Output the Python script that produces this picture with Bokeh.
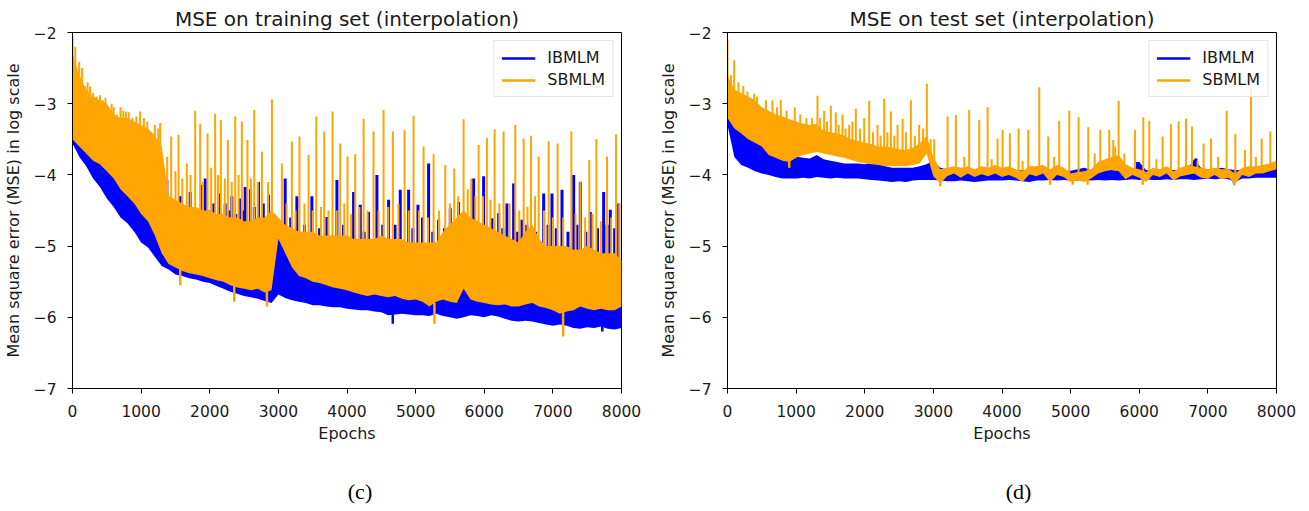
from bokeh.plotting import figure
from bokeh.layouts import row, column
from bokeh.models import Range1d, FixedTicker, Legend, LegendItem, Label
from bokeh.embed import file_html
from bokeh.resources import INLINE

# ---------------- data ----------------
EPOCHS = [0, 100, 200, 300, 400, 500, 600, 700, 800, 900,
          1000, 1100, 1200, 1300, 1400, 1500, 1600, 1700, 1800, 1900,
          2000, 2100, 2200, 2300, 2400, 2500, 2600, 2700, 2800, 2900,
          3000, 3100, 3200, 3300, 3400, 3500, 3600, 3700, 3800, 3900,
          4000, 4100, 4200, 4300, 4400, 4500, 4600, 4700, 4800, 4900,
          5000, 5100, 5200, 5300, 5400, 5500, 5600, 5700, 5800, 5900,
          6000, 6100, 6200, 6300, 6400, 6500, 6600, 6700, 6800, 6900,
          7000, 7100, 7200, 7300, 7400, 7500, 7600, 7700, 7800, 7900,
          8000]

XTICKS = [0, 1000, 2000, 3000, 4000, 5000, 6000, 7000, 8000]
YTICKS = [-7, -6, -5, -4, -3, -2]
YTICK_LABELS = ["\u22127", "\u22126", "\u22125", "\u22124", "\u22123", "\u22122"]
SERIES = ["IBMLM", "SBMLM"]
CAPTIONS = ["(c)", "(d)"]
TITLES = ["MSE on training set (interpolation)", "MSE on test set (interpolation)"]

# ---- (c) training set: IBMLM dense band (lower / upper edge) ----
TRAIN_IB_LO = [-3.56, -3.75, -3.88, -4.05, -4.17, -4.33, -4.45, -4.6, -4.68, -4.8,
               -4.95, -5.02, -5.15, -5.28, -5.33, -5.4, -5.42, -5.45, -5.47, -5.5,
               -5.52, -5.56, -5.6, -5.64, -5.67, -5.7, -5.72, -5.74, -5.77, -5.8,
               -5.68, -5.73, -5.76, -5.78, -5.8, -5.83, -5.83, -5.85, -5.86, -5.86,
               -5.88, -5.89, -5.9, -5.9, -5.92, -5.93, -5.97, -5.96, -5.95, -5.96,
               -5.97, -5.97, -5.98, -5.95, -5.98, -6.0, -6.02, -6.0, -5.97, -5.98,
               -6.0, -5.97, -5.99, -6.02, -6.05, -6.06, -6.05, -6.06, -6.08, -6.1,
               -6.12, -6.1, -6.12, -6.15, -6.16, -6.14, -6.15, -6.13, -6.16, -6.17,
               -6.15]
TRAIN_IB_HI = [-3.3, -3.4, -3.5, -3.65, -3.75, -3.9, -4.0, -4.15, -4.25, -4.35,
               -4.5, -4.6, -4.7, -4.85, -4.95, -5.05, -5.1, -5.15, -5.2, -5.2,
               -5.25, -5.3, -5.33, -5.38, -5.4, -5.42, -5.45, -5.48, -5.5, -5.5,
               -4.8, -5.0, -5.2, -5.3, -5.35, -5.4, -5.45, -5.48, -5.5, -5.52,
               -5.54, -5.56, -5.58, -5.6, -5.58, -5.6, -5.62, -5.6, -5.64, -5.66,
               -5.65, -5.68, -5.72, -5.68, -5.65, -5.68, -5.7, -5.4, -5.65, -5.68,
               -5.7, -5.72, -5.73, -5.72, -5.75, -5.75, -5.72, -5.7, -5.75, -5.77,
               -5.8, -5.85, -5.82, -5.8, -5.7, -5.78, -5.8, -5.78, -5.8, -5.8,
               -5.75]
# spikes: (epoch, peak, base)
TRAIN_IB_SPIKES = [(520, -3.18, -4.0), (1375, -4.07, -5.1), (1450, -4.6, -5.2), (1570, -4.3, -5.2),
                   (1650, -4.5, -5.2), (1715, -4.24, -5.2), (1780, -4.6, -5.3), (1881, -4.14, -5.3),
                   (1934, -4.05, -5.3), (2000, -4.5, -5.3), (2060, -4.4, -5.3), (2128, -4.26, -5.3),
                   (2225, -4.4, -5.4), (2280, -4.5, -5.4), (2322, -4.3, -5.4), (2380, -4.55, -5.4),
                   (2444, -4.33, -5.4), (2480, -4.5, -5.4), (2516, -4.17, -5.4), (2595, -4.2, -5.4),
                   (2650, -4.45, -5.4), (2710, -4.1, -5.4), (2780, -4.4, -5.4), (2857, -4.28, -5.4),
                   (3099, -4.05, -5.1), (3180, -4.6, -5.3), (3270, -4.3, -5.3), (3380, -4.7, -5.4),
                   (3488, -4.3, -5.5), (3600, -4.75, -5.5), (3707, -4.59, -5.5), (3853, -4.07, -5.6),
                   (3950, -4.7, -5.6), (4096, -4.24, -5.6), (4193, -4.42, -5.6), (4250, -4.8, -5.6),
                   (4314, -4.52, -5.6), (4436, -4.0, -5.6), (4520, -4.7, -5.6), (4606, -4.35, -5.7),
                   (4700, -4.7, -5.7), (4776, -4.21, -5.7), (4898, -4.21, -5.7), (4960, -4.75, -5.7),
                   (5034, -4.42, -5.7), (5100, -4.6, -5.7), (5189, -3.84, -5.7), (5250, -4.8, -5.7),
                   (5335, -4.63, -5.7), (5420, -4.75, -5.7), (5505, -4.47, -5.7), (5560, -4.7, -5.7),
                   (5626, -4.38, -5.7), (5760, -4.65, -5.6), (5845, -4.05, -5.7), (5920, -4.7, -5.7),
                   (5991, -4.02, -5.8), (6050, -4.8, -5.8), (6112, -4.61, -5.8), (6210, -4.54, -5.8),
                   (6270, -4.75, -5.8), (6331, -4.4, -5.8), (6428, -4.12, -5.8), (6480, -4.8, -5.8),
                   (6550, -4.63, -5.8), (6620, -4.7, -5.8), (6750, -4.8, -5.8), (6866, -4.26, -5.8),
                   (6930, -4.7, -5.8), (6987, -4.26, -5.9), (7050, -4.75, -5.9), (7133, -4.21, -5.9),
                   (7220, -4.8, -5.9), (7303, -4.0, -5.9), (7350, -4.7, -5.9), (7400, -4.1, -5.9),
                   (7480, -4.8, -5.9), (7546, -4.52, -5.9), (7650, -4.75, -5.9), (7740, -4.24, -5.9),
                   (7790, -4.7, -5.9), (7837, -4.49, -5.9), (7900, -4.75, -5.9), (7959, -4.4, -5.9)]
TRAIN_IB_DIPS = [(4667, -6.09, -5.9), (7720, -6.2, -6.0)]

# ---- (c) training set: SBMLM ----
TRAIN_SB_LO = [-3.5, -3.6, -3.7, -3.8, -3.85, -3.95, -4.05, -4.2, -4.3, -4.4,
               -4.55, -4.65, -4.85, -5.1, -5.25, -5.3, -5.35, -5.38, -5.4, -5.42,
               -5.45, -5.48, -5.5, -5.55, -5.58, -5.6, -5.62, -5.6, -5.65, -5.62,
               -4.9, -5.1, -5.3, -5.42, -5.45, -5.5, -5.52, -5.55, -5.58, -5.6,
               -5.62, -5.65, -5.68, -5.7, -5.68, -5.7, -5.72, -5.7, -5.74, -5.76,
               -5.75, -5.78, -5.85, -5.78, -5.75, -5.78, -5.8, -5.6, -5.75, -5.78,
               -5.8, -5.82, -5.83, -5.82, -5.85, -5.85, -5.82, -5.8, -5.85, -5.87,
               -5.9, -5.95, -5.92, -5.9, -5.85, -5.88, -5.9, -5.88, -5.9, -5.9,
               -5.85]
TRAIN_SB_HI = [-2.3, -2.6, -2.8, -2.9, -2.95, -3.0, -3.15, -3.2, -3.2, -3.25,
               -3.3, -3.35, -3.45, -3.6, -4.3, -4.35, -4.4, -4.45, -4.45, -4.5,
               -4.5, -4.55, -4.55, -4.6, -4.6, -4.65, -4.65, -4.6, -4.6, -4.5,
               -4.6, -4.7, -4.75, -4.8, -4.8, -4.8, -4.85, -4.85, -4.85, -4.85,
               -4.85, -4.9, -4.9, -4.9, -4.9, -4.85, -4.9, -4.9, -4.9, -4.95,
               -4.95, -4.95, -4.95, -4.95, -4.8, -4.7, -4.6, -4.5, -4.6, -4.65,
               -4.7, -4.75, -4.8, -4.85, -4.9, -4.95, -4.8, -4.7, -4.9, -5.0,
               -5.0, -5.0, -5.0, -5.05, -5.05, -5.0, -5.05, -5.1, -5.1, -5.1,
               -5.2]
TRAIN_SB_SPIKES = [(0, -2.05, -2.5), (40, -2.2, -2.5), (97, -2.41, -2.8), (140, -2.5, -2.8),
                   (180, -2.75, -3.0), (220, -2.7, -3.0), (257, -2.76, -3.1), (300, -2.85, -3.1),
                   (350, -2.9, -3.2), (400, -2.88, -3.2), (440, -2.95, -3.2), (480, -2.92, -3.2),
                   (525, -3.05, -3.3), (570, -3.0, -3.3), (600, -3.05, -3.3), (646, -3.15, -3.4),
                   (700, -3.05, -3.4), (740, -3.1, -3.4), (777, -3.11, -3.5), (820, -3.12, -3.5),
                   (874, -3.2, -3.5), (930, -3.18, -3.5), (985, -3.11, -3.6), (1040, -3.2, -3.6),
                   (1090, -3.25, -3.6), (1146, -3.4, -3.8), (1200, -3.3, -3.8), (1250, -3.35, -3.8),
                   (1278, -3.27, -3.9), (1330, -3.9, -4.5), (1380, -3.75, -4.5), (1438, -3.46, -4.6),
                   (1500, -3.95, -4.6), (1545, -3.44, -4.6), (1600, -4.05, -4.6), (1666, -3.84, -4.7),
                   (1720, -4.0, -4.7), (1788, -3.1, -4.7), (1860, -3.28, -4.7), (1900, -4.1, -4.7),
                   (1968, -3.42, -4.8), (2020, -3.9, -4.8), (2079, -3.14, -4.8), (2120, -4.0, -4.8),
                   (2162, -3.23, -4.8), (2220, -4.05, -4.8), (2264, -3.51, -4.8), (2320, -4.1, -4.9),
                   (2371, -3.18, -4.9), (2420, -4.0, -4.9), (2468, -3.25, -4.9), (2550, -3.51, -4.9),
                   (2600, -4.05, -4.9), (2648, -3.09, -4.9), (2700, -4.1, -4.9), (2760, -3.67, -4.9),
                   (2850, -4.1, -4.9), (2906, -2.94, -4.9), (3051, -3.84, -4.8), (3120, -4.4, -4.9),
                   (3197, -3.53, -5.0), (3250, -4.5, -5.0), (3308, -3.46, -5.0), (3380, -4.4, -5.0),
                   (3440, -3.72, -5.0), (3500, -4.5, -5.0), (3552, -3.18, -5.0), (3620, -4.45, -5.1),
                   (3668, -3.39, -5.1), (3730, -4.5, -5.1), (3789, -3.11, -5.1), (3850, -4.5, -5.1),
                   (3901, -3.56, -5.1), (3960, -4.4, -5.1), (4008, -3.74, -5.1), (4060, -4.55, -5.1),
                   (4120, -3.71, -5.1), (4180, -4.45, -5.1), (4242, -3.21, -5.1), (4300, -4.5, -5.1),
                   (4387, -3.39, -5.1), (4460, -4.5, -5.1), (4533, -3.09, -5.1), (4600, -4.45, -5.1),
                   (4669, -3.39, -5.1), (4750, -4.4, -5.1), (4839, -3.37, -5.1), (4900, -4.5, -5.2),
                   (4970, -3.17, -5.2), (5050, -4.5, -5.2), (5116, -3.6, -5.2), (5180, -4.6, -5.2),
                   (5262, -3.71, -5.2), (5340, -4.5, -5.2), (5432, -3.86, -5.2), (5500, -4.4, -5.2),
                   (5563, -3.91, -5.2), (5620, -4.3, -5.2), (5699, -3.22, -5.2), (5760, -4.2, -5.2),
                   (5811, -4.05, -5.2), (5870, -4.3, -5.2), (5918, -3.58, -5.2), (5980, -4.3, -5.2),
                   (6039, -3.48, -5.2), (6090, -4.35, -5.2), (6151, -3.36, -5.2), (6220, -4.4, -5.2),
                   (6282, -3.39, -5.2), (6370, -4.4, -5.2), (6452, -3.3, -5.2), (6510, -4.5, -5.3),
                   (6574, -3.49, -5.3), (6630, -4.45, -5.3), (6681, -3.45, -5.3), (6740, -4.3, -5.3),
                   (6793, -3.74, -5.3), (6870, -4.5, -5.3), (6939, -3.53, -5.3), (7000, -4.6, -5.3),
                   (7070, -3.56, -5.3), (7150, -4.6, -5.3), (7269, -3.39, -5.3), (7330, -4.55, -5.3),
                   (7400, -4.09, -5.3), (7470, -4.6, -5.3), (7531, -3.79, -5.3), (7580, -4.55, -5.3),
                   (7633, -3.5, -5.3), (7700, -4.65, -5.3), (7789, -3.74, -5.3), (7850, -4.6, -5.3),
                   (7920, -3.43, -5.3), (7968, -4.4, -5.3)]
TRAIN_SB_DIPS = [(1570, -5.55, -5.3), (2357, -5.78, -5.5), (2833, -5.85, -5.6),
                 (5274, -6.09, -5.8), (7149, -6.27, -5.9)]

# ---- (d) test set: IBMLM ----
TEST_IB_LO = [-3.3, -3.75, -3.86, -3.9, -3.95, -3.98, -4.0, -4.03, -4.05, -4.05,
              -4.05, -4.04, -4.05, -4.03, -4.04, -4.05, -4.04, -4.05, -4.05, -4.05,
              -4.06, -4.07, -4.08, -4.09, -4.1, -4.09, -4.1, -4.08, -4.07, -4.07,
              -4.07, -4.08, -4.09, -4.09, -4.08, -4.09, -4.1, -4.09, -4.08, -4.08,
              -4.08, -4.07, -4.08, -4.09, -4.1, -4.08, -4.08, -4.07, -4.08, -4.07,
              -4.08, -4.08, -4.07, -4.08, -4.07, -4.08, -4.07, -4.08, -4.07, -4.06,
              -4.07, -4.06, -4.07, -4.07, -4.06, -4.07, -4.06, -4.06, -4.07, -4.06,
              -4.05, -4.06, -4.05, -4.06, -4.1, -4.05, -4.05, -4.04, -4.04, -4.04,
              -4.04]
TEST_IB_HI = [-3.2, -3.3, -3.38, -3.42, -3.46, -3.5, -3.6, -3.65, -3.7, -3.72,
              -3.74, -3.76, -3.77, -3.72, -3.78, -3.8, -3.82, -3.84, -3.84, -3.84,
              -3.85, -3.83, -3.85, -3.88, -3.9, -3.9, -3.9, -3.9, -3.88, -3.85,
              -3.8, -3.9, -3.92, -3.93, -3.93, -3.93, -3.94, -3.93, -3.93, -3.92,
              -3.93, -3.94, -3.94, -3.93, -3.94, -3.93, -3.92, -3.94, -3.94, -3.95,
              -3.94, -3.92, -3.9, -3.93, -3.92, -3.92, -3.93, -3.94, -3.94, -3.93,
              -3.82, -3.93, -3.94, -3.94, -3.94, -3.93, -3.94, -3.92, -3.78, -3.9,
              -3.92, -3.92, -3.9, -3.92, -3.93, -3.93, -3.92, -3.93, -3.92, -3.92,
              -3.9]
TEST_IB_SPIKES = [(20, -3.15, -3.3), (2964, -3.79, -3.9), (5976, -3.82, -3.95), (6826, -3.77, -3.95)]
TEST_IB_DIPS = [(7380, -4.12, -4.05)]

# ---- (d) test set: SBMLM ----
TEST_SB_LO = [-3.2, -3.35, -3.42, -3.5, -3.55, -3.6, -3.72, -3.76, -3.8, -3.82,
              -3.76, -3.72, -3.7, -3.68, -3.7, -3.72, -3.74, -3.76, -3.79, -3.82,
              -3.84, -3.85, -3.86, -3.88, -3.88, -3.88, -3.88, -3.86, -3.84, -3.7,
              -4.02, -4.12, -4.02, -3.98, -4.04, -3.98, -4.03, -3.99, -4.02, -3.98,
              -4.03, -4.0, -4.04, -4.1, -3.99, -4.02, -3.98, -4.1, -4.0, -4.03,
              -4.1, -4.08, -4.1, -4.05, -3.98, -3.95, -3.93, -3.95, -4.06, -4.0,
              -4.04, -4.1, -4.0, -4.03, -3.98, -4.08, -4.02, -4.0, -3.98, -4.04,
              -4.05, -4.0, -4.06, -4.04, -4.12, -4.0, -4.03, -3.98, -3.98, -3.95,
              -3.92]
TEST_SB_HI = [-2.6, -2.8, -2.85, -2.9, -2.95, -3.05, -3.1, -3.15, -3.18, -3.22,
              -3.25, -3.28, -3.3, -3.28, -3.38, -3.4, -3.42, -3.45, -3.5, -3.52,
              -3.55, -3.57, -3.6, -3.6, -3.62, -3.64, -3.65, -3.62, -3.56, -3.45,
              -3.75, -3.92, -3.9, -3.88, -3.9, -3.88, -3.92, -3.88, -3.9, -3.86,
              -3.9, -3.88, -3.92, -3.95, -3.88, -3.88, -3.86, -3.92, -3.86, -3.9,
              -3.98, -3.96, -3.95, -3.92, -3.82, -3.78, -3.75, -3.72, -3.85, -3.9,
              -3.92, -3.96, -3.9, -3.92, -3.88, -3.95, -3.9, -3.86, -3.88, -3.9,
              -3.92, -3.9, -3.92, -3.92, -3.98, -3.9, -3.88, -3.88, -3.86, -3.84,
              -3.8]
TEST_SB_SPIKES = [(0, -2.1, -2.8), (50, -2.6, -2.9), (97, -2.39, -2.9), (160, -2.7, -2.9),
                  (230, -2.75, -2.95), (291, -2.83, -3.0), (388, -2.86, -3.0), (430, -2.9, -3.1),
                  (485, -3.07, -3.15), (560, -2.95, -3.2), (655, -2.95, -3.2), (720, -3.05, -3.25),
                  (777, -2.95, -3.3), (860, -3.1, -3.3), (981, -3.05, -3.35), (1060, -3.15, -3.4),
                  (1150, -3.2, -3.4), (1230, -3.2, -3.4),
                  (1311, -2.89, -3.4), (1350, -3.2, -3.4), (1408, -3.1, -3.5), (1450, -3.25, -3.5),
                  (1506, -3.03, -3.5), (1578, -3.12, -3.5), (1620, -3.3, -3.5), (1676, -3.15, -3.55),
                  (1720, -3.35, -3.55), (1773, -3.3, -3.6), (1820, -3.25, -3.6), (1870, -3.07, -3.6),
                  (1930, -3.35, -3.6), (1992, -3.2, -3.65), (2065, -2.96, -3.65), (2120, -3.4, -3.65),
                  (2186, -3.3, -3.7), (2230, -3.45, -3.7), (2283, -2.93, -3.7), (2330, -3.4, -3.7),
                  (2381, -3.11, -3.7), (2430, -3.45, -3.7), (2478, -3.3, -3.7), (2551, -3.21, -3.75),
                  (2600, -3.4, -3.75), (2672, -2.95, -3.7), (2730, -3.45, -3.7), (2793, -3.3, -3.7),
                  (2850, -3.35, -3.65), (2905, -2.72, -3.6), (2960, -3.5, -3.8), (3012, -3.5, -3.9),
                  (3207, -3.18, -3.95), (3328, -3.16, -3.95), (3450, -3.75, -3.95), (3522, -3.09, -3.95),
                  (3668, -3.23, -3.95), (3790, -3.05, -3.95), (3850, -3.78, -3.95), (3935, -3.49, -3.95),
                  (4008, -3.37, -3.95), (4115, -3.42, -3.95), (4241, -3.35, -3.95), (4300, -3.8, -3.95),
                  (4382, -3.37, -3.95), (4543, -2.77, -3.95), (4674, -3.46, -3.95), (4760, -3.75, -3.95),
                  (4834, -3.24, -3.95), (4980, -3.1, -3.98), (5116, -3.19, -3.98), (5257, -3.33, -3.98),
                  (5350, -3.7, -3.9), (5432, -3.37, -3.9), (5563, -3.37, -3.85), (5621, -3.51, -3.85),
                  (5650, -3.6, -3.85), (5699, -2.96, -3.85), (5782, -3.7, -3.9), (5937, -3.37, -3.95),
                  (6059, -3.19, -3.98), (6146, -3.24, -3.98), (6250, -3.78, -3.95), (6340, -3.46, -3.95),
                  (6462, -3.29, -3.95), (6574, -3.25, -3.95), (6681, -3.21, -3.95), (6768, -3.32, -3.95),
                  (6850, -3.8, -3.95), (6938, -3.56, -3.95), (7045, -3.49, -3.95), (7150, -3.75, -3.95),
                  (7273, -3.1, -3.95), (7400, -3.43, -4.0), (7541, -3.65, -3.95), (7628, -2.79, -3.95),
                  (7700, -3.75, -3.95), (7784, -3.49, -3.92), (7910, -3.39, -3.9)]
TEST_SB_DIPS = [(900, -3.9, -3.78), (3100, -4.16, -4.05), (4700, -4.14, -4.05), (5030, -4.14, -4.05),
                (5247, -4.14, -4.05), (6050, -4.14, -4.05), (7385, -4.15, -4.05)]

# ---------------- styling ----------------
BLUE = "#0000FF"
ORANGE = "#FFA500"
FONT = "DejaVu Sans"
TXT = "#1a1a1a"


def unzip(triples):
    return ([t[0] for t in triples], [t[1] for t in triples], [t[2] for t in triples])


def draw_series(p, lo, hi, spikes, dips, color, spike_w):
    p.varea(x=EPOCHS, y1=lo, y2=hi, fill_color=color, fill_alpha=1.0)
    sx, sp, sb = unzip(spikes)
    p.segment(x0=sx, y0=sb, x1=sx, y1=sp, line_color=color, line_width=spike_w)
    dx, dp, db = unzip(dips)
    return p.segment(x0=dx, y0=db, x1=dx, y1=dp, line_color=color, line_width=2.5)


def make_panel(idx, ib, sb, left, right):
    p = figure(output_backend="svg", toolbar_location=None, tools="",
               frame_width=549, frame_height=356,
               min_border_left=left, min_border_right=right,
               min_border_top=32, min_border_bottom=65,
               x_range=Range1d(0, 8000), y_range=Range1d(-7, -2),
               background_fill_color="white", border_fill_color="white")
    r_ib = draw_series(p, *ib, BLUE, 3.0)
    r_sb = draw_series(p, *sb, ORANGE, 2.0)

    p.title.text = TITLES[idx]
    p.title.align = "center"
    p.title.text_font = FONT
    p.title.text_font_size = "20px"
    p.title.text_font_style = "normal"
    p.title.text_color = TXT
    p.title.standoff = 4

    p.grid.visible = False
    p.outline_line_color = "black"
    p.outline_line_width = 1

    p.xaxis.ticker = FixedTicker(ticks=XTICKS)
    p.yaxis.ticker = FixedTicker(ticks=YTICKS)
    p.yaxis.major_label_overrides = {t: s for t, s in zip(YTICKS, YTICK_LABELS)}
    for ax in (p.xaxis[0], p.yaxis[0]):
        ax.axis_line_color = "black"
        ax.major_tick_line_color = "black"
        ax.major_tick_out = 5
        ax.major_tick_in = 0
        ax.minor_tick_line_color = None
        ax.major_label_text_font = FONT
        ax.major_label_text_font_size = "15.5px"
        ax.major_label_text_color = TXT
        ax.axis_label_text_font = FONT
        ax.axis_label_text_font_size = "16px"
        ax.axis_label_text_font_style = "normal"
        ax.axis_label_text_color = TXT
    p.xaxis.axis_label = "Epochs"
    p.yaxis.axis_label = "Mean square error (MSE) in log scale"
    p.xaxis.major_label_standoff = 11
    p.xaxis.axis_label_standoff = 4
    p.yaxis.major_label_standoff = 11
    p.yaxis.axis_label_standoff = 8

    legend = Legend(items=[LegendItem(label=SERIES[0], renderers=[r_ib]),
                           LegendItem(label=SERIES[1], renderers=[r_sb])],
                    location="top_right", margin=8, padding=7, spacing=3,
                    glyph_width=34, glyph_height=18, label_height=18, label_standoff=12,
                    label_text_font=FONT, label_text_font_size="16px", label_text_color=TXT,
                    border_line_color="#cccccc", border_line_width=1,
                    background_fill_color="white", background_fill_alpha=0.8)
    p.add_layout(legend)
    return p


def make_caption(idx, width, cx):
    c = figure(output_backend="svg", toolbar_location=None, tools="",
               width=width, height=58, min_border=0,
               x_axis_location=None, y_axis_location=None,
               x_range=Range1d(0, 1), y_range=Range1d(0, 1),
               background_fill_color="white", border_fill_color="white")
    c.outline_line_color = None
    c.grid.visible = False
    c.add_layout(Label(x=cx, y=20.5, x_units="screen", y_units="screen", text=CAPTIONS[idx],
                       text_align="center", text_baseline="middle", text_font="Liberation Serif",
                       text_font_size="22px", text_color="black"))
    return c


# widths: 72 + 549 + 34 = 655 and 72 + 549 + 33 = 654 -> 1309 in total
p1 = make_panel(0,
                (TRAIN_IB_LO, TRAIN_IB_HI, TRAIN_IB_SPIKES, TRAIN_IB_DIPS),
                (TRAIN_SB_LO, TRAIN_SB_HI, TRAIN_SB_SPIKES, TRAIN_SB_DIPS),
                72, 34)
p2 = make_panel(1,
                (TEST_IB_LO, TEST_IB_HI, TEST_IB_SPIKES, TEST_IB_DIPS),
                (TEST_SB_LO, TEST_SB_HI, TEST_SB_SPIKES, TEST_SB_DIPS),
                72, 33)
c1 = make_caption(0, 655, 359.5)
c2 = make_caption(1, 654, 363)

layout = column(row(p1, p2), row(c1, c2))
open("out.html", "w").write(file_html(layout, INLINE))
